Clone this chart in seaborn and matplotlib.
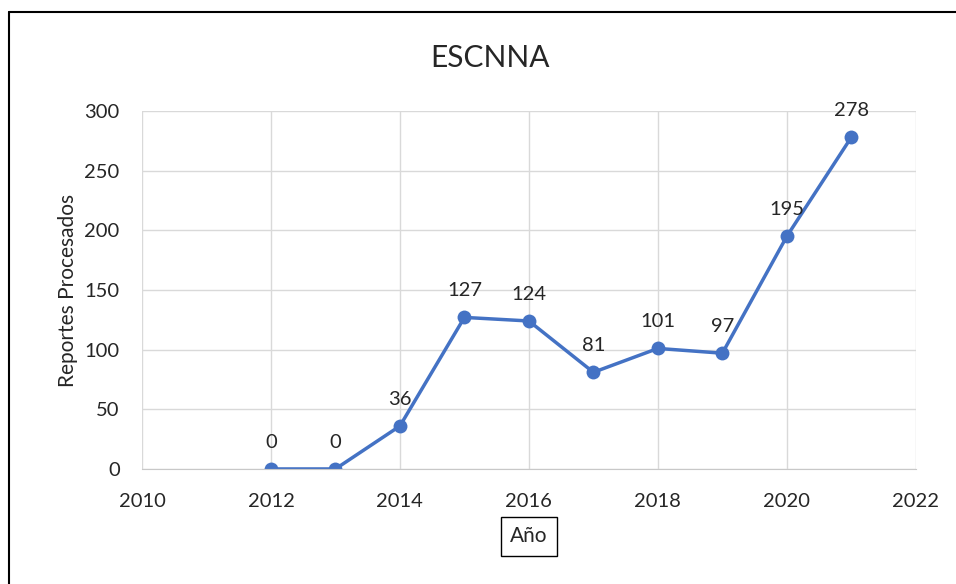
import matplotlib
matplotlib.use("Agg")
import matplotlib.pyplot as plt
import seaborn as sns
import pandas as pd
from matplotlib.lines import Line2D

years = [2012, 2013, 2014, 2015, 2016, 2017, 2018, 2019, 2020, 2021]
reportes = [0, 0, 36, 127, 124, 81, 101, 97, 195, 278]

df = pd.DataFrame({"Año": years, "Reportes": reportes})

sns.set_style("white")
plt.rcParams["font.family"] = ["Lato", "DejaVu Sans"]

fig = plt.figure(figsize=(9.56, 5.84), dpi=100)
ax = fig.add_axes([0.1485, 0.197, 0.8095, 0.613])

ax.grid(True, color="#d9d9d9", linewidth=1)
ax.set_axisbelow(True)
sns.lineplot(data=df, x="Año", y="Reportes", ax=ax, color="#4472C4",
             linewidth=2.5, marker="o", markersize=10, markeredgewidth=0)

for x, y in zip(years, reportes):
    ax.annotate(str(y), (x, y), xytext=(0, 13), textcoords="offset points",
                ha="center", va="bottom", fontsize=14.5)

ax.set_xlim(2010, 2022)
ax.set_ylim(0, 300)
ax.set_xticks(range(2010, 2023, 2))
ax.set_yticks(range(0, 301, 50))
ax.tick_params(axis="x", labelsize=14.5, length=0, pad=17)
ax.tick_params(axis="y", labelsize=14.5, length=0, pad=16)
for s in ["top", "right", "left"]:
    ax.spines[s].set_visible(False)
ax.spines["bottom"].set_color("#c8c8c8")

fig.text(490 / 956, 1 - 58 / 584, "ESCNNA", fontsize=21.5, ha="center", va="center")
ax.set_ylabel("Reportes Procesados", fontsize=15, labelpad=5)
ax.set_xlabel("Año", fontsize=15, labelpad=12,
              bbox=dict(boxstyle="square,pad=0.45", fc="white", ec="black", lw=1))

fig.add_artist(Line2D([9 / 956, 9 / 956], [0, 1 - 12 / 584], color="black", lw=1.5))
fig.add_artist(Line2D([9 / 956, 1], [1 - 12 / 584, 1 - 12 / 584], color="black", lw=1.5))

fig.savefig("out.png", dpi=100)
